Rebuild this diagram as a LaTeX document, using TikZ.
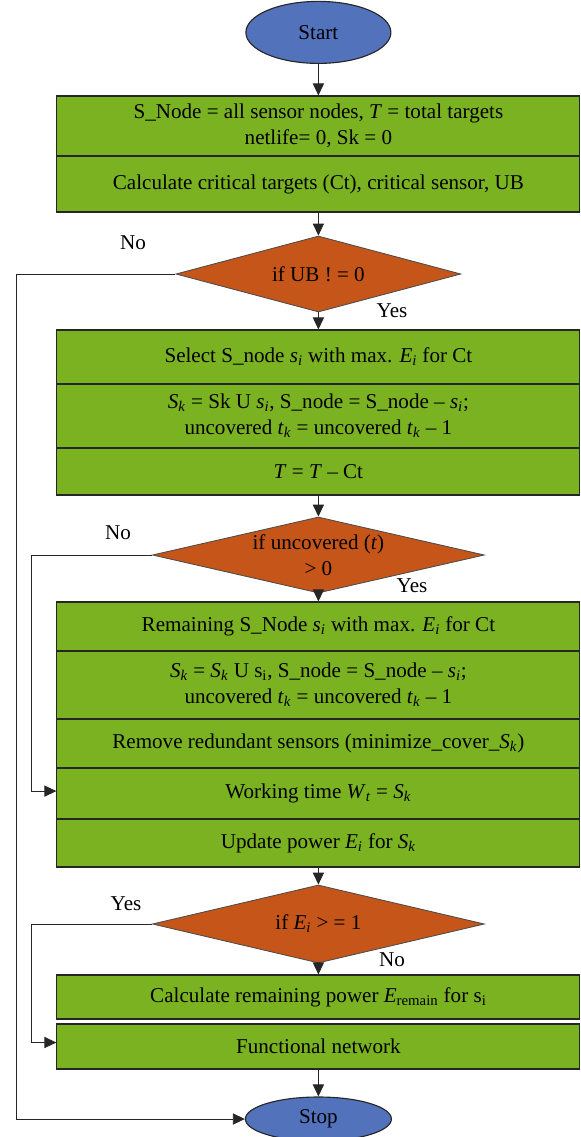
\documentclass[tikz,border=0pt]{standalone}
\usepackage{fontspec}
\setmainfont{Liberation Serif}
\usepackage{tikz}
\usetikzlibrary{shapes,arrows.meta,positioning}
\usepackage{xcolor}

\definecolor{boxgreen}{RGB}{122,178,34}
\definecolor{testorange}{RGB}{197,85,24}
\definecolor{endblue}{RGB}{82,114,188}
\newcommand{\vsub}[2]{\textit{#1}\textsubscript{\textit{#2}}}

\begin{document}
\begin{tikzpicture}[
    font={\fontsize{15}{18.5}\selectfont},
    >={Triangle[length=3mm,width=2.8mm]},
    stepbox/.style={draw=black!85, line width=0.8pt, rectangle, fill=boxgreen, minimum width=13.075cm, align=center, inner sep=2pt},
    testbox/.style={draw=black!70, line width=0.6pt, diamond, aspect=4.3, fill=testorange, align=center, inner sep=0pt},
    endbox/.style={draw=black!85, line width=0.8pt, ellipse, fill=endblue, inner sep=0pt},
    link/.style={->, line width=0.6pt, draw=black!85}
]
    \useasboundingbox (0,0) rectangle (14.525,-28.425);

    \node[endbox, minimum width=3.625cm, minimum height=1.55cm] (start) at (7.96,-0.81) {Start};

    \node[stepbox, minimum height=1.5cm] (init) at (7.96,-3.15) {S\_Node = all sensor nodes, \textit{T} = total targets\\netlife= 0, Sk = 0};
    \node[stepbox, minimum height=1.4cm] (critical) at (7.96,-4.6) {Calculate critical targets (Ct), critical sensor, UB};

    \node[testbox, minimum width=7.125cm, minimum height=1.9cm] (ubtest) at (7.96,-6.85) {if UB ! = 0};

    \node[stepbox, minimum height=1.35cm] (select) at (7.96,-8.925) {Select S\_node \vsub{s}{i} with max. \vsub{E}{i} for Ct};
    \node[stepbox, minimum height=1.6cm] (update) at (7.96,-10.4) {\vsub{S}{k} = Sk U \vsub{s}{i}, S\_node = S\_node – \vsub{s}{i};\\uncovered \vsub{t}{k} = uncovered \vsub{t}{k} – 1};
    \node[stepbox, minimum height=1.175cm] (targets) at (7.96,-11.7875) {\textit{T} = \textit{T} – Ct};

    \node[testbox, minimum width=8.3cm, minimum height=1.9cm] (uncovtest) at (7.96,-13.875) {if uncovered (\textit{t})\\> 0};

    \node[stepbox, minimum height=1.225cm] (remaining) at (7.96,-15.6625) {Remaining S\_Node \vsub{s}{i} with max. \vsub{E}{i} for Ct};
    \node[stepbox, minimum height=1.7cm] (updateset) at (7.96,-17.125) {\vsub{S}{k} = \vsub{S}{k} U s\textsubscript{i}, S\_node = S\_node – \vsub{s}{i};\\uncovered \vsub{t}{k} = uncovered \vsub{t}{k} – 1};
    \node[stepbox, minimum height=1.225cm] (redundant) at (7.96,-18.5875) {Remove redundant sensors (minimize\_cover\_\vsub{S}{k})};
    \node[stepbox, minimum height=1.275cm] (working) at (7.96,-19.8375) {Working time \vsub{W}{t} = \vsub{S}{k}};
    \node[stepbox, minimum height=1.2cm] (power) at (7.96,-21.075) {Update power \vsub{E}{i} for \vsub{S}{k}};

    \node[testbox, minimum width=8.3cm, minimum height=1.95cm] (energytest) at (7.96,-23.1) {if \vsub{E}{i} > = 1};

    \node[stepbox, minimum height=1.1cm] (remainpower) at (7.96,-24.925) {Calculate remaining power \textit{E}\textsubscript{remain} for s\textsubscript{i}};
    \node[stepbox, minimum height=1.125cm] (network) at (7.96,-26.1625) {Functional network};

    \node[endbox, minimum width=3.65cm, minimum height=1.1cm] (stop) at (7.96,-27.975) {Stop};

    % branch labels
    \node (ubno) at (3.325,-6.075) {No};
    \node (ubyes) at (9.8,-7.775) {Yes};
    \node (uncovno) at (2.95,-13.325) {No};
    \node (uncovyes) at (10.3,-14.65) {Yes};
    \node (energyyes) at (3.15,-22.6) {Yes};
    \node (energyno) at (9.8,-24.0) {No};

    \draw[link] (start) -- (init);
    \draw[link] (critical) -- (ubtest);
    \draw[link] (ubtest) -- (select);
    \draw[link] (targets) -- (uncovtest);
    \draw[link] (uncovtest) -- (remaining);
    \draw[link] (power) -- (energytest);
    \draw[link] (energytest) -- (remainpower);
    \draw[link] (network) -- (stop);

    % side returns
    \coordinate (outerrail) at (0.4,-6.85);
    \coordinate (innerrail) at (0.78,-13.875);
    \coordinate (yesrail) at (0.78,-23.1);
    \draw[link] (ubtest.west) -- (outerrail) |- (stop.west);
    \draw[link] (uncovtest.west) -- (innerrail) |- ([yshift=0.06cm]working.west);
    \draw[link] (energytest.west) -- (yesrail) |- ([yshift=0.1cm]network.west);
\end{tikzpicture}
\end{document}
